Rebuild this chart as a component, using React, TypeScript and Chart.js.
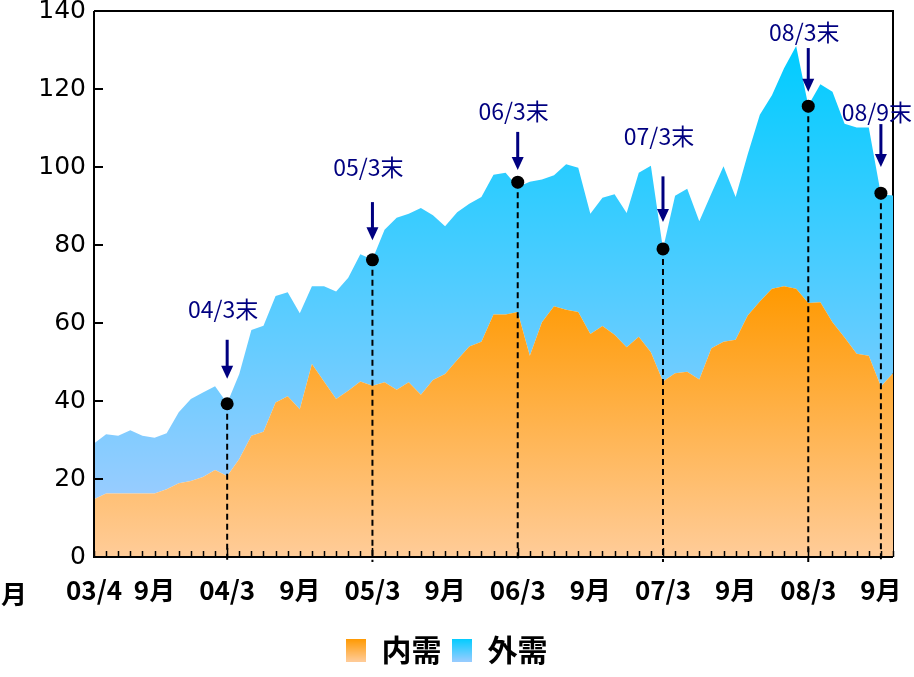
import { useEffect, useRef } from 'react';
import { Chart, registerables } from 'chart.js';

Chart.register(...registerables);

const months = [
  '03/4', '03/5', '03/6', '03/7', '03/8', '03/9', '03/10', '03/11', '03/12', '04/1', '04/2', '04/3',
  '04/4', '04/5', '04/6', '04/7', '04/8', '04/9', '04/10', '04/11', '04/12', '05/1', '05/2', '05/3',
  '05/4', '05/5', '05/6', '05/7', '05/8', '05/9', '05/10', '05/11', '05/12', '06/1', '06/2', '06/3',
  '06/4', '06/5', '06/6', '06/7', '06/8', '06/9', '06/10', '06/11', '06/12', '07/1', '07/2', '07/3',
  '07/4', '07/5', '07/6', '07/7', '07/8', '07/9', '07/10', '07/11', '07/12', '08/1', '08/2', '08/3',
  '08/4', '08/5', '08/6', '08/7', '08/8', '08/9', '08/10',
];

// 内需 (domestic demand)
const innerDemand = [
  14.8, 16.3, 16.3, 16.3, 16.3, 16.3, 17.4, 18.9, 19.5, 20.5, 22.3, 20.8,
  25.1, 31.1, 32.1, 39.6, 41.2, 37.9, 49.5, 45.0, 40.5, 42.6, 45.0, 43.9,
  44.8, 42.9, 44.8, 41.6, 45.4, 46.9, 50.5, 54.0, 55.2, 62.2, 62.2, 62.8,
  51.6, 60.2, 64.3, 63.4, 62.8, 57.2, 59.2, 57.0, 53.8, 56.5, 52.5, 45.0,
  47.1, 47.5, 45.5, 53.5, 55.2, 55.7, 61.9, 65.5, 68.8, 69.4, 68.8, 65.1,
  65.3, 60.2, 56.3, 52.1, 51.6, 43.7, 47.1,
];

// 外需 (external demand)
const outerDemand = [
  14.3, 15.2, 14.8, 16.2, 14.8, 14.3, 14.3, 18.2, 21.0, 21.7, 21.5, 18.6,
  21.8, 27.1, 27.2, 27.3, 26.7, 24.6, 19.9, 24.4, 27.6, 29.0, 32.6, 32.4,
  39.1, 44.1, 43.2, 47.9, 42.2, 37.9, 37.9, 36.6, 37.1, 35.8, 36.3, 32.1,
  44.6, 36.6, 33.6, 37.3, 37.0, 30.8, 32.9, 36.0, 34.4, 42.0, 47.8, 34.0,
  45.5, 46.9, 40.6, 39.7, 45.0, 36.6, 41.4, 47.9, 49.6, 55.9, 62.2, 50.7,
  55.9, 59.1, 54.8, 58.0, 58.5, 49.3, 45.6,
];

const xTickMonths = ['03/4', '03/9', '04/3', '04/9', '05/3', '05/9', '06/3', '06/9', '07/3', '07/9', '08/3', '08/9'];
const xTickTexts = ['03/4', '9月', '04/3', '9月', '05/3', '9月', '06/3', '9月', '07/3', '9月', '08/3', '9月'];
const majorTickMonths = ['04/3', '05/3', '06/3', '07/3', '08/3'];

// annotations (values in data units)
const annMonths = ['04/3', '05/3', '06/3', '07/3', '08/3', '08/9'];
const annLabels = ['04/3末', '05/3末', '06/3末', '07/3末', '08/3末', '08/9末'];
const annValues = [39.3, 76.2, 96.1, 79.0, 115.6, 93.3];
const annLabelLevel = [63.4, 99.9, 114.3, 107.9, 134.6, 114.0];
const annArrowFrom = [55.7, 91.0, 109.0, 97.6, 130.5, 111.0];
const annArrowTip = [45.7, 81.2, 99.2, 85.9, 119.3, 100.0];

const yTickLabels = ['0', '20', '40', '60', '80', '100', '120', '140'];

const CJK = '"Noto Sans CJK JP", "Noto Sans CJK SC", sans-serif';
const NAVY = '#000080';

function makeSwatch(top: string, bottom: string) {
  const c = document.createElement('canvas');
  c.width = 20;
  c.height = 23;
  const g = c.getContext('2d')!;
  const gr = g.createLinearGradient(0, 0, 0, 23);
  gr.addColorStop(0, top);
  gr.addColorStop(1, bottom);
  g.fillStyle = gr;
  g.fillRect(0, 0, 20, 23);
  return c;
}

const decorPlugin = {
  id: 'decor',
  beforeDatasetsDraw(chart: any) {
    const { ctx, chartArea: a } = chart;
    ctx.save();
    ctx.strokeStyle = '#000';
    ctx.lineWidth = 2;
    ctx.beginPath();
    ctx.moveTo(a.left, a.top);
    ctx.lineTo(a.right, a.top);
    ctx.lineTo(a.right, a.bottom);
    ctx.stroke();
    ctx.restore();
  },
  beforeDatasetDraw(chart: any, args: any) {
    if (args.index !== 2) return;
    const { ctx, chartArea: a } = chart;
    const xs = chart.scales.x;
    const ys = chart.scales.y;
    ctx.save();
    ctx.strokeStyle = '#000';
    ctx.lineWidth = 2;
    ctx.setLineDash([6, 4]);
    annMonths.forEach((m, i) => {
      const px = xs.getPixelForValue(months.indexOf(m));
      const py = ys.getPixelForValue(annValues[i]);
      ctx.beginPath();
      ctx.moveTo(px, py);
      ctx.lineTo(px, a.bottom + 5);
      ctx.stroke();
    });
    ctx.restore();
  },
  afterDatasetsDraw(chart: any) {
    const { ctx, chartArea: a } = chart;
    const xs = chart.scales.x;
    const ys = chart.scales.y;
    ctx.save();
    // axes
    ctx.strokeStyle = '#000';
    ctx.lineWidth = 2;
    ctx.beginPath();
    ctx.moveTo(a.left, a.top);
    ctx.lineTo(a.left, a.bottom);
    ctx.lineTo(a.right, a.bottom);
    ctx.stroke();
    // x ticks (inward)
    ctx.lineWidth = 1.5;
    months.forEach((m, i) => {
      const px = Math.round(xs.getPixelForValue(i)) + 0.5;
      const len = majorTickMonths.includes(m) ? 9 : 6;
      ctx.beginPath();
      ctx.moveTo(px, a.bottom);
      ctx.lineTo(px, a.bottom - len);
      ctx.stroke();
    });
    // y ticks (inward)
    ctx.lineWidth = 2;
    yTickLabels.forEach((t) => {
      const py = ys.getPixelForValue(Number(t));
      ctx.beginPath();
      ctx.moveTo(a.left, py);
      ctx.lineTo(a.left + 9, py);
      ctx.stroke();
    });
    // arrows and labels
    ctx.fillStyle = NAVY;
    ctx.strokeStyle = NAVY;
    ctx.font = `23px ${CJK}`;
    ctx.textAlign = 'center';
    ctx.textBaseline = 'middle';
    annMonths.forEach((m, i) => {
      const px = xs.getPixelForValue(months.indexOf(m));
      const ly = ys.getPixelForValue(annLabelLevel[i]);
      ctx.fillText(annLabels[i], px - 4, ly);
      const y0 = ys.getPixelForValue(annArrowFrom[i]);
      const y1 = ys.getPixelForValue(annArrowTip[i]);
      ctx.lineWidth = 3;
      ctx.beginPath();
      ctx.moveTo(px, y0);
      ctx.lineTo(px, y1 - 10);
      ctx.stroke();
      ctx.beginPath();
      ctx.moveTo(px - 6, y1 - 13);
      ctx.lineTo(px + 6, y1 - 13);
      ctx.lineTo(px, y1);
      ctx.closePath();
      ctx.fill();
    });
    ctx.restore();
  },
  afterDraw(chart: any) {
    const { ctx, chartArea: a } = chart;
    ctx.save();
    ctx.fillStyle = '#000';
    ctx.font = `bold 26px ${CJK}`;
    ctx.textAlign = 'center';
    ctx.textBaseline = 'middle';
    ctx.fillText('月', 14, a.bottom + 37);
    ctx.restore();
  },
};

export default function App() {
  const ref = useRef<HTMLCanvasElement | null>(null);

  useEffect(() => {
    if (!ref.current) return;
    const swO = makeSwatch('#FF9900', '#FFCC99');
    const swB = makeSwatch('#00CCFF', '#99CCFF');
    const totals = innerDemand.map((v, i) => v + outerDemand[i]);
    const maxInner = Math.max(...innerDemand);
    const maxTotal = Math.max(...totals);
    const minInner = Math.min(...innerDemand);

    const markerData = months.map((m) => {
      const k = annMonths.indexOf(m);
      return k >= 0 ? annValues[k] : null;
    });

    const chart = new Chart(ref.current, {
      type: 'line',
      data: {
        labels: months,
        datasets: [
          {
            label: '内需',
            data: innerDemand,
            fill: 'origin',
            borderWidth: 0,
            pointRadius: 0,
            pointStyle: swO as any,
            stack: 'demand',
            order: 1,
            backgroundColor: (c: any) => {
              const ch = c.chart;
              const area = ch.chartArea;
              if (!area) return '#FFB866';
              const yTop = ch.scales.y.getPixelForValue(maxInner);
              const g = ch.ctx.createLinearGradient(0, yTop, 0, area.bottom);
              g.addColorStop(0, '#FF9900');
              g.addColorStop(1, '#FFCC99');
              return g;
            },
          },
          {
            label: '外需',
            data: outerDemand,
            fill: '-1',
            borderWidth: 0,
            pointRadius: 0,
            pointStyle: swB as any,
            stack: 'demand',
            order: 1,
            backgroundColor: (c: any) => {
              const ch = c.chart;
              const area = ch.chartArea;
              if (!area) return '#66CCFF';
              const yTop = ch.scales.y.getPixelForValue(maxTotal);
              const yBot = ch.scales.y.getPixelForValue(minInner);
              const g = ch.ctx.createLinearGradient(0, yTop, 0, yBot);
              g.addColorStop(0, '#00CCFF');
              g.addColorStop(1, '#99CCFF');
              return g;
            },
          },
          {
            label: 'markers',
            data: markerData,
            showLine: false,
            fill: false,
            pointRadius: 6.5,
            pointHoverRadius: 6.5,
            pointBackgroundColor: '#000',
            pointBorderWidth: 0,
            borderWidth: 0,
            stack: 'ann',
            order: 0,
          },
        ],
      },
      options: {
        responsive: true,
        maintainAspectRatio: false,
        animation: false,
        layout: { padding: { top: 0, right: 21, left: 0, bottom: 2 } },
        plugins: {
          tooltip: { enabled: false },
          legend: {
            position: 'bottom',
            labels: {
              usePointStyle: true,
              boxWidth: 21,
              padding: 10,
              color: '#000',
              font: { family: CJK, size: 30, weight: 'bold' },
              filter: (item: any) => item.datasetIndex < 2,
            },
          },
        },
        scales: {
          x: {
            type: 'category',
            offset: false,
            grid: { display: false, drawTicks: true, tickLength: 16 },
            border: { display: false },
            ticks: {
              autoSkip: false,
              maxRotation: 0,
              minRotation: 0,
              padding: 2,
              color: '#000',
              font: { family: CJK, size: 26, weight: 'bold' },
              callback: (_v: any, i: number) => {
                const k = xTickMonths.indexOf(months[i]);
                return k >= 0 ? xTickTexts[k] : '';
              },
            },
            afterFit: (s: any) => {
              s.height = 68;
            },
          },
          y: {
            stacked: true,
            min: 0,
            max: 140,
            grid: { display: false, drawTicks: true, tickLength: 8 },
            border: { display: false },
            ticks: {
              stepSize: 20,
              padding: 0,
              color: '#000',
              font: { family: '"DejaVu Sans", sans-serif', size: 25, lineHeight: 0.88 },
            },
            afterFit: (s: any) => {
              s.width = 94;
            },
          },
        },
      },
      plugins: [decorPlugin],
    });
    return () => chart.destroy();
  }, []);

  return (
    <div style={{ position: 'fixed', left: 0, top: 0, width: 914, height: 677, background: '#fff' }}>
      <canvas ref={ref} style={{ display: 'block' }} />
    </div>
  );
}
